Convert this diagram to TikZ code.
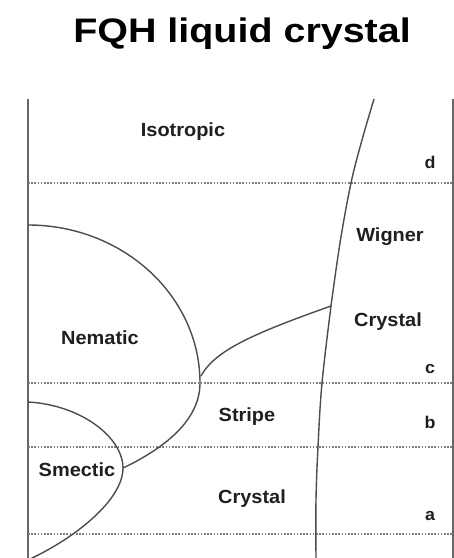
\documentclass[tikz,border=0pt]{standalone}
\usepackage{fontspec}
\setmainfont{Liberation Sans}
\newfontfamily\titlefont[FakeStretch=1.16]{Liberation Sans}
\newfontfamily\labfont[FakeStretch=1.05]{Liberation Sans}
\begin{document}
\begin{tikzpicture}[x=1pt,y=-1pt,
  frame/.style={draw=black!60, line width=1.8pt},
  phase/.style={draw=black!70, line width=1.4pt},
  level/.style={draw=black!50, line width=1.2pt, dash pattern=on 1.6pt off 1.6pt},
  lab/.style={anchor=base, inner sep=0pt, font=\labfont\bfseries\fontsize{19}{19}\selectfont, text=black!88},
  tag/.style={anchor=base, inner sep=0pt, font=\labfont\bfseries\fontsize{17}{17}\selectfont, text=black!88}]
\useasboundingbox (0,0) rectangle (454,558);
% title
\node[anchor=base, inner sep=0pt, font=\titlefont\bfseries\fontsize{34}{34}\selectfont] (title) at (242,42) {FQH liquid crystal};
% frame
\coordinate (lt) at (28,99); \coordinate (lb) at (28,558);
\coordinate (rt) at (453,99); \coordinate (rb) at (453,558);
\draw[frame] (lt) -- (lb);
\draw[frame] (rt) -- (rb);
% dashed levels
\foreach \yy/\nm in {183/d,383/c,447/b,534/a}{
  \coordinate (L\nm) at (28,\yy); \coordinate (R\nm) at (453,\yy);
  \draw[level] (L\nm) -- (R\nm);
}
% Wigner boundary
\coordinate (J) at (331,306);
\draw[phase] plot[smooth, tension=0.6] coordinates {(374,99) (362,140) (351,183) (340,243) (331,306)};
\draw[phase] plot[smooth, tension=0.6] coordinates {(331,306) (322,383) (318,447) (316,500) (316,558)};
% Nematic boundary
\coordinate (N0) at (28,225); \coordinate (N1) at (200,383); \coordinate (N2) at (123,468);
\draw[phase] (N0) .. controls (123,225) and (200,296) .. (N1)
                  .. controls (200,420) and (165,448) .. (N2);
% Smectic boundary
\coordinate (S0) at (28,402); \coordinate (S1) at (30,559);
\draw[phase] (S0) .. controls (82,405) and (123,438) .. (N2)
                  .. controls (123,500) and (75,538) .. (S1);
% stripe-nematic to wigner
\coordinate (K) at (201,376);
\draw[phase] (K) .. controls (215,350) and (255,333) .. (J);
% labels
\node[lab] (iso) at (183,136) {Isotropic};
\node[lab] (wig) at (390,241) {Wigner};
\node[lab] (cr1) at (388,326) {Crystal};
\node[lab] (nem) at (100,344) {Nematic};
\node[lab] (str) at (247,421) {Stripe};
\node[lab] (sme) at (77,476) {Smectic};
\node[lab] (cr2) at (252,503) {Crystal};
\node[tag] (td) at (430,168) {d};
\node[tag] (tc) at (430,373) {c};
\node[tag] (tb) at (430,428) {b};
\node[tag] (ta) at (430,520) {a};
\end{tikzpicture}
\end{document}
